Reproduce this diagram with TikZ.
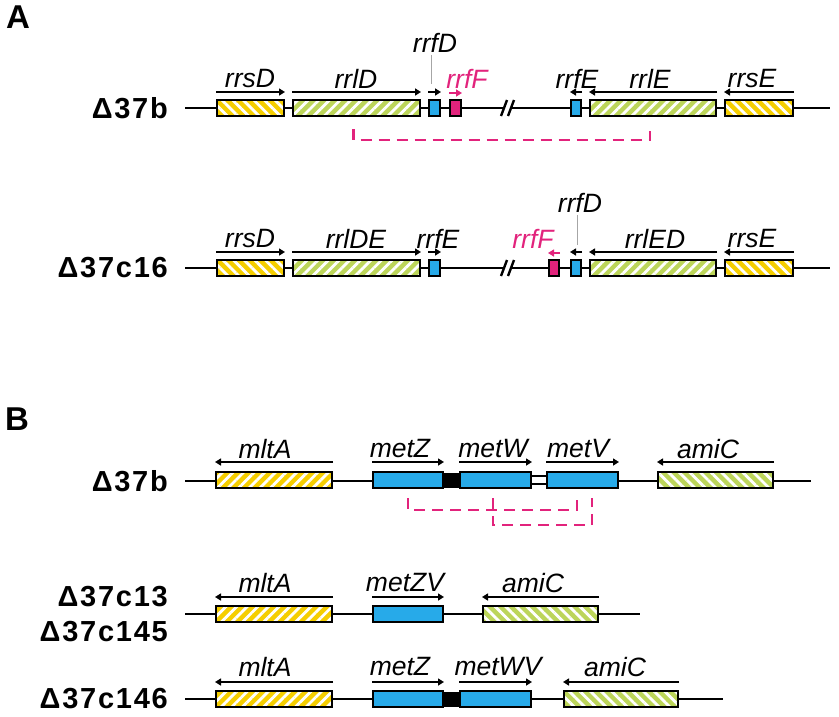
\documentclass[tikz,border=0pt]{standalone}
\usepackage{fontspec}
\setmainfont{Liberation Sans}
\newfontfamily\strainfont[LetterSpace=6]{Liberation Sans}
\usetikzlibrary{arrows.meta,patterns.meta}

\definecolor{rrsyel}{HTML}{F5CE00}
\definecolor{rrlgrn}{HTML}{BCD55A}
\definecolor{trnblu}{HTML}{27AAE9}
\definecolor{delmag}{HTML}{E2237C}

\tikzset{
  chrom/.style={line width=2pt},
  gene/.style={draw, line width=2pt, inner sep=0pt, minimum height=16pt},
  yelR/.style={gene, preaction={fill=rrsyel},
    preaction={pattern={Lines[angle=-45,distance=7.5pt,line width=2.8pt]}, pattern color=white}},
  yelL/.style={gene, preaction={fill=rrsyel},
    preaction={pattern={Lines[angle=45,distance=7.5pt,line width=2.8pt]}, pattern color=white}},
  grnR/.style={gene, preaction={fill=rrlgrn},
    preaction={pattern={Lines[angle=-45,distance=7.5pt,line width=2.8pt]}, pattern color=white}},
  grnL/.style={gene, preaction={fill=rrlgrn},
    preaction={pattern={Lines[angle=45,distance=7.5pt,line width=2.8pt]}, pattern color=white}},
  blu/.style={gene, fill=trnblu},
  magbox/.style={gene, fill=delmag},
  linker/.style={draw, line width=2pt, inner sep=0pt, fill=black, minimum height=13pt},
  gap/.style={draw, line width=1.6pt, inner sep=0pt, fill=white, minimum height=8pt},
  dir/.style={line width=1.6pt, -{Triangle[length=6pt,width=7pt]}},
  gname/.style={font=\fontsize{26.5}{28}\selectfont\itshape, inner sep=2pt},
  strain/.style={font=\fontsize{29}{32}\selectfont\strainfont\bfseries, anchor=east, inner sep=0pt},
  panel/.style={font=\fontsize{33}{34}\selectfont\bfseries, inner sep=0pt},
  lead/.style={gray!70, line width=1pt},
  delline/.style={delmag, line width=2.2pt, dash pattern=on 11pt off 7pt},
  brk/.style={line width=2.4pt}
}

\begin{document}
\begin{tikzpicture}[x=1pt,y=-1pt]
\useasboundingbox (0,0) rectangle (839,716);

% ---- panel A
\node[panel] (pA) at (18,17) {A};

% Delta37b
\node[strain] (sA1) at (168,108) {Δ37b};
\coordinate (a1l) at (185,108);
\coordinate (a1r) at (830,108);
\draw[chrom] (a1l) -- (a1r);
\coordinate (a1brk) at (508,108);
\fill[white] ([xshift=-7pt,yshift=-8pt]a1brk) -- ([xshift=-1pt,yshift=8pt]a1brk) -- ([xshift=6pt,yshift=8pt]a1brk) -- ([xshift=0pt,yshift=-8pt]a1brk) -- cycle;
\draw[brk] ([xshift=-7pt,yshift=-8pt]a1brk) -- ([xshift=-1pt,yshift=8pt]a1brk);
\draw[brk] ([xshift=0pt,yshift=-8pt]a1brk) -- ([xshift=6pt,yshift=8pt]a1brk);
\node[yelR, minimum width=67] (a1rrsD) at (250.5,108) {};
\node[grnL, minimum width=127] (a1rrlD) at (356.5,108) {};
\node[blu, minimum width=11] (a1rrfD) at (434.5,108) {};
\node[magbox, minimum width=11] (a1rrfF) at (455.5,108) {};
\node[blu, minimum width=10] (a1rrfE) at (576,108) {};
\node[grnL, minimum width=126] (a1rrlE) at (653,108) {};
\node[yelR, minimum width=68] (a1rrsE) at (759,108) {};
\draw[dir] ([yshift=7pt]a1rrsD.north west) -- ([yshift=7pt]a1rrsD.north east);
\draw[dir] ([yshift=7pt]a1rrlD.north west) -- ([yshift=7pt]a1rrlD.north east);
\draw[dir] ([yshift=7pt]a1rrfD.north west) -- ([yshift=7pt]a1rrfD.north east);
\draw[dir, delmag] ([yshift=6pt]a1rrfF.north west) -- ([yshift=6pt]a1rrfF.north east);
\draw[dir] ([yshift=7pt]a1rrfE.north east) -- ([yshift=7pt]a1rrfE.north west);
\draw[dir] ([yshift=7pt]a1rrlE.north east) -- ([yshift=7pt]a1rrlE.north west);
\draw[dir] ([yshift=7pt]a1rrsE.north east) -- ([yshift=7pt]a1rrsE.north west);
\node[gname] (a1rrsDl) at (250,79) {rrsD};
\node[gname] (a1rrlDl) at (356,79) {rrlD};
\node[gname] (a1rrfDl) at (435,43) {rrfD};
\node[gname, delmag] (a1rrfFl) at (467,79) {rrfF};
\node[gname] (a1rrfEl) at (577,79) {rrfE};
\node[gname] (a1rrlEl) at (650,79) {rrlE};
\node[gname] (a1rrsEl) at (752,79) {rrsE};
\draw[lead] ([xshift=-4pt]a1rrfDl.south) -- ([xshift=-3.5pt,yshift=15pt]a1rrfD.north);
\draw[delline] ([xshift=-3pt,yshift=-12pt]a1rrlD.south) -- ++(0,11) -| ([xshift=-3pt,yshift=-12pt]a1rrlE.south);

% Delta37c16
\node[strain] (sA2) at (168,268) {Δ37c16};
\coordinate (a2l) at (185,268);
\coordinate (a2r) at (830,268);
\draw[chrom] (a2l) -- (a2r);
\coordinate (a2brk) at (508,268);
\fill[white] ([xshift=-7pt,yshift=-8pt]a2brk) -- ([xshift=-1pt,yshift=8pt]a2brk) -- ([xshift=6pt,yshift=8pt]a2brk) -- ([xshift=0pt,yshift=-8pt]a2brk) -- cycle;
\draw[brk] ([xshift=-7pt,yshift=-8pt]a2brk) -- ([xshift=-1pt,yshift=8pt]a2brk);
\draw[brk] ([xshift=0pt,yshift=-8pt]a2brk) -- ([xshift=6pt,yshift=8pt]a2brk);
\node[yelR, minimum width=67] (a2rrsD) at (250.5,268) {};
\node[grnL, minimum width=127] (a2rrlDE) at (356.5,268) {};
\node[blu, minimum width=11] (a2rrfE) at (434.5,268) {};
\node[magbox, minimum width=10] (a2rrfF) at (554,268) {};
\node[blu, minimum width=10] (a2rrfD) at (576,268) {};
\node[grnL, minimum width=126] (a2rrlED) at (653,268) {};
\node[yelR, minimum width=68] (a2rrsE) at (759,268) {};
\draw[dir] ([yshift=7pt]a2rrsD.north west) -- ([yshift=7pt]a2rrsD.north east);
\draw[dir] ([yshift=7pt]a2rrlDE.north west) -- ([yshift=7pt]a2rrlDE.north east);
\draw[dir] ([yshift=7pt]a2rrfE.north west) -- ([yshift=7pt]a2rrfE.north east);
\draw[dir, delmag] ([yshift=6pt]a2rrfF.north east) -- ([yshift=6pt]a2rrfF.north west);
\draw[dir] ([yshift=7pt]a2rrfD.north east) -- ([yshift=7pt]a2rrfD.north west);
\draw[dir] ([yshift=7pt]a2rrlED.north east) -- ([yshift=7pt]a2rrlED.north west);
\draw[dir] ([yshift=7pt]a2rrsE.north east) -- ([yshift=7pt]a2rrsE.north west);
\node[gname] (a2rrsDl) at (250,239) {rrsD};
\node[gname] (a2rrlDEl) at (356,239) {rrlDE};
\node[gname] (a2rrfEl) at (438,239) {rrfE};
\node[gname, delmag] (a2rrfFl) at (533,239) {rrfF};
\node[gname] (a2rrfDl) at (580,203) {rrfD};
\node[gname] (a2rrlEDl) at (655,239) {rrlED};
\node[gname] (a2rrsEl) at (752,239) {rrsE};
\draw[lead] ([xshift=-3pt]a2rrfDl.south) -- ([xshift=1pt,yshift=14pt]a2rrfD.north);

% ---- panel B
\node[panel] (pB) at (17,419) {B};

% Delta37b
\node[strain] (sB1) at (168,481) {Δ37b};
\coordinate (b1l) at (185,481);
\coordinate (b1r) at (811,481);
\draw[chrom] (b1l) -- (b1r);
\node[yelL, minimum width=116] (b1mltA) at (274,480) {};
\node[linker, minimum width=17] (b1lnk) at (451.5,480) {};
\node[gap, minimum width=16] (b1gap) at (539,480) {};
\node[blu, minimum width=70] (b1metZ) at (408,480) {};
\node[blu, minimum width=71] (b1metW) at (495.5,480) {};
\node[blu, minimum width=71] (b1metV) at (582.5,480) {};
\node[grnR, minimum width=115] (b1amiC) at (715.5,480) {};
\draw[dir] ([yshift=9pt]b1mltA.north east) -- ([yshift=9pt]b1mltA.north west);
\draw[dir] ([yshift=9pt]b1metZ.north west) -- ([yshift=9pt]b1metZ.north east);
\draw[dir] ([yshift=9pt]b1metW.north west) -- ([yshift=9pt]b1metW.north east);
\draw[dir] ([yshift=9pt]b1metV.north west) -- ([yshift=9pt]b1metV.north east);
\draw[dir] ([yshift=9pt]b1amiC.north east) -- ([yshift=9pt]b1amiC.north west);
\node[gname] (b1mltAl) at (265,449) {mltA};
\node[gname] (b1metZl) at (400,449) {metZ};
\node[gname] (b1metWl) at (493,449) {metW};
\node[gname] (b1metVl) at (578,449) {metV};
\node[gname] (b1amiCl) at (708,449) {amiC};
\draw[delline] ([yshift=-9pt]b1metZ.south) -- ++(0,12) -| ([xshift=-5.5pt,yshift=-9pt]b1metV.south);
\draw[delline] ([xshift=-2.5pt,yshift=-9pt]b1metW.south) -- ++(0,27) -| ([xshift=9.5pt,yshift=-9pt]b1metV.south);

% Delta37c13 / Delta37c145
\node[strain] (sB2) at (168,597) {Δ37c13};
\node[strain] (sB3) at (168,632) {Δ37c145};
\coordinate (b2l) at (185,614);
\coordinate (b2r) at (640,614);
\draw[chrom] (b2l) -- (b2r);
\node[yelL, minimum width=116] (b2mltA) at (274,614) {};
\node[blu, minimum width=70] (b2metZV) at (408,614) {};
\node[grnR, minimum width=115] (b2amiC) at (540.5,614) {};
\draw[dir] ([yshift=8pt]b2mltA.north east) -- ([yshift=8pt]b2mltA.north west);
\draw[dir] ([yshift=8pt]b2metZV.north west) -- ([yshift=8pt]b2metZV.north east);
\draw[dir] ([yshift=8pt]b2amiC.north east) -- ([yshift=8pt]b2amiC.north west);
\node[gname] (b2mltAl) at (265,583) {mltA};
\node[gname] (b2metZVl) at (405,583) {metZV};
\node[gname] (b2amiCl) at (533,583) {amiC};

% Delta37c146
\node[strain] (sB4) at (168,699) {Δ37c146};
\coordinate (b3l) at (185,699);
\coordinate (b3r) at (723,699);
\draw[chrom] (b3l) -- (b3r);
\node[yelL, minimum width=116] (b3mltA) at (274,699) {};
\node[linker, minimum width=17] (b3lnk) at (451.5,699) {};
\node[blu, minimum width=70] (b3metZ) at (408,699) {};
\node[blu, minimum width=71] (b3metWV) at (495.5,699) {};
\node[grnR, minimum width=114] (b3amiC) at (621,699) {};
\draw[dir] ([yshift=8pt]b3mltA.north east) -- ([yshift=8pt]b3mltA.north west);
\draw[dir] ([yshift=8pt]b3metZ.north west) -- ([yshift=8pt]b3metZ.north east);
\draw[dir] ([yshift=8pt]b3metWV.north west) -- ([yshift=8pt]b3metWV.north east);
\draw[dir] ([yshift=8pt]b3amiC.north east) -- ([yshift=8pt]b3amiC.north west);
\node[gname] (b3mltAl) at (265,667) {mltA};
\node[gname] (b3metZl) at (400,667) {metZ};
\node[gname] (b3metWVl) at (498,667) {metWV};
\node[gname] (b3amiCl) at (615,667) {amiC};
\end{tikzpicture}
\end{document}
